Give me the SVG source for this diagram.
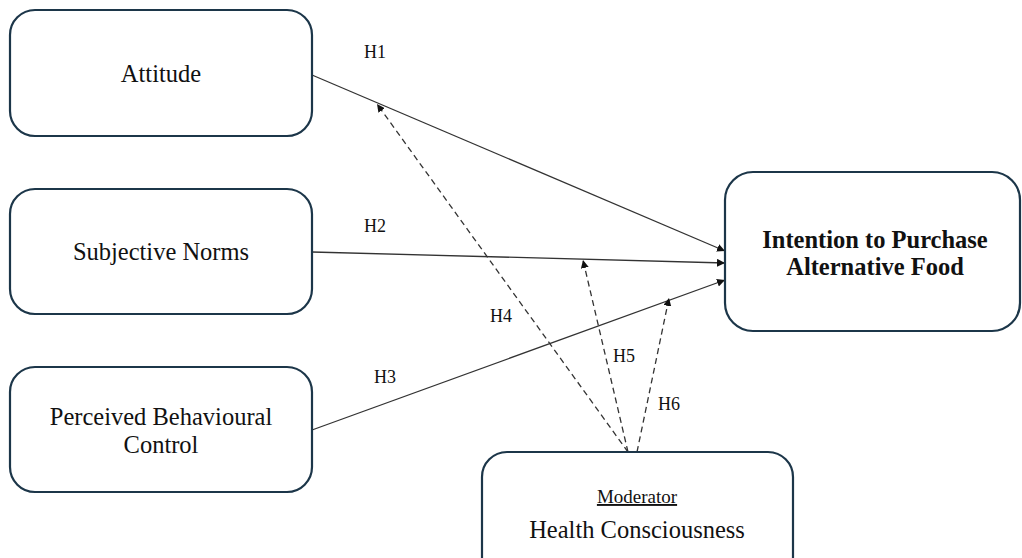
<svg xmlns="http://www.w3.org/2000/svg" width="1022" height="558" viewBox="0 0 1022 558">
<style>
.box{fill:#fff;stroke:#1c3649;stroke-width:2.2}
.t{font-family:"Liberation Serif","Times New Roman",serif;font-size:24.5px;fill:#111;text-anchor:middle}
.b{font-weight:bold}
.h{font-family:"Liberation Serif","Times New Roman",serif;font-size:18px;fill:#111}
.ln{stroke:#333;stroke-width:1.3;fill:none}
.d{stroke:#333;stroke-width:1.3;fill:none;stroke-dasharray:6,4}
</style>
<defs>
<marker id="ah" viewBox="0 0 10 10" refX="10" refY="5" markerWidth="8" markerHeight="8" markerUnits="userSpaceOnUse" orient="auto">
<path d="M0,0 L10,5 L0,10 z" fill="#111"/>
</marker>
</defs>
<rect width="1022" height="558" fill="#fff"/>
<g id="edges">
<line class="ln" x1="312" y1="75" x2="725" y2="251" marker-end="url(#ah)"/>
<line class="ln" x1="312" y1="252" x2="725" y2="263" marker-end="url(#ah)"/>
<line class="ln" x1="312" y1="430" x2="725" y2="280" marker-end="url(#ah)"/>
<line class="d" x1="628" y1="452" x2="377" y2="104" marker-end="url(#ah)"/>
<line class="d" x1="628" y1="452" x2="583" y2="260" marker-end="url(#ah)"/>
<line class="d" x1="637" y1="452" x2="669" y2="298" marker-end="url(#ah)"/>
<text class="h" x="364" y="58">H1</text>
<text class="h" x="364" y="232">H2</text>
<text class="h" x="374" y="383">H3</text>
<text class="h" x="490" y="322">H4</text>
<text class="h" x="613" y="362">H5</text>
<text class="h" x="658" y="410">H6</text>
</g>
<g id="attitude">
<rect class="box" x="10" y="10" width="302" height="126" rx="25"/>
<text class="t" x="161" y="82">Attitude</text>
</g>
<g id="subjective-norms">
<rect class="box" x="10" y="189" width="302" height="125" rx="25"/>
<text class="t" x="161" y="260">Subjective Norms</text>
</g>
<g id="pbc">
<rect class="box" x="10" y="367" width="302" height="125" rx="25"/>
<text class="t" x="161" y="425">Perceived Behavioural</text>
<text class="t" x="161" y="453">Control</text>
</g>
<g id="intention">
<rect class="box" x="725" y="172" width="295" height="159" rx="28"/>
<text class="t b" x="875" y="248">Intention to Purchase</text>
<text class="t b" x="875" y="275">Alternative Food</text>
</g>
<g id="health">
<rect class="box" x="482" y="452" width="311" height="130" rx="25"/>
<text class="t" x="637" y="503" style="font-size:19px;text-decoration:underline">Moderator</text>
<text class="t" x="637" y="538">Health Consciousness</text>
</g>
</svg>
